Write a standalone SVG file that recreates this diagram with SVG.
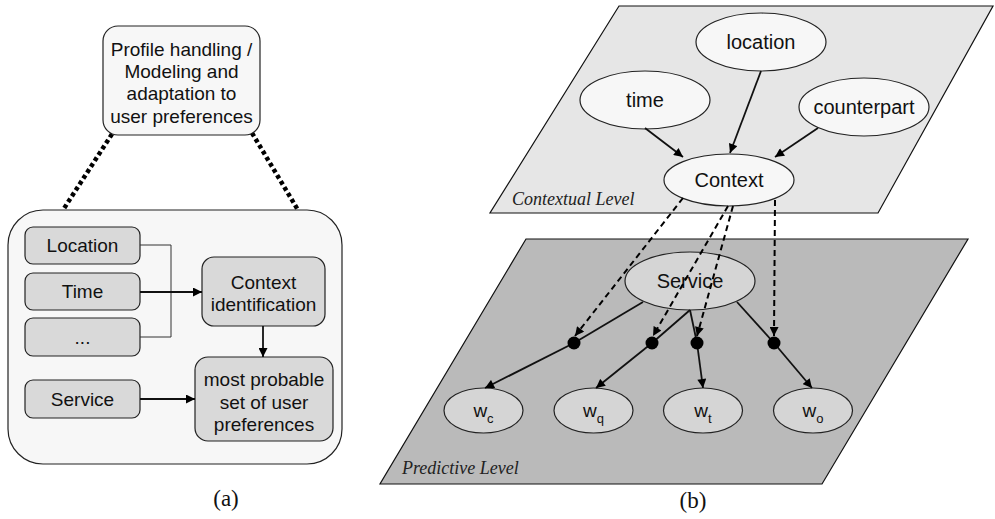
<svg xmlns="http://www.w3.org/2000/svg" width="995" height="519" viewBox="0 0 995 519">
<style>
.t{font-family:"Liberation Sans",Arial,sans-serif;fill:#111;text-anchor:middle}
.l{font-size:19px}
.r{font-size:20px}
.lvl{font-family:"Liberation Serif","Times New Roman",serif;font-style:italic;font-size:18px;fill:#222}
.cap{font-family:"Liberation Serif","Times New Roman",serif;font-size:23px;fill:#111;text-anchor:middle}
.box{stroke:#222;stroke-width:1.2}
.lt{fill:#f7f7f7}
.dk{fill:#d9d9d9}
.ce{fill:#f7f7f7;stroke:#222;stroke-width:1.2}
.pe{fill:#d5d5d5;stroke:#222;stroke-width:1.2}
.ln{fill:none;stroke:#111;stroke-width:1.8}
.thin{fill:none;stroke:#333;stroke-width:1}
.dot{fill:none;stroke:#000;stroke-width:4.5;stroke-dasharray:4 3}
.dash{fill:none;stroke:#000;stroke-width:2;stroke-dasharray:6 4}
</style>
<defs>
<marker id="ah" viewBox="0 0 10 10" refX="10" refY="5" markerWidth="10" markerHeight="9" markerUnits="userSpaceOnUse" orient="auto">
<path d="M0,0 L10,5 L0,10 z" fill="#000"/>
</marker>
</defs>

<!-- (a) -->
<g id="a-dotted">
<line class="dot" x1="112" y1="134" x2="63" y2="210"/>
<line class="dot" x1="252" y1="133" x2="298" y2="210"/>
</g>
<g id="profile">
<rect class="box lt" x="103" y="26" width="157" height="109" rx="15"/>
<text class="t l" x="181.5" y="56">Profile handling /</text>
<text class="t l" x="181.5" y="78">Modeling and</text>
<text class="t l" x="181.5" y="100">adaptation to</text>
<text class="t l" x="181.5" y="123">user preferences</text>
</g>
<g id="container">
<rect class="box lt" x="8" y="210" width="334" height="254" rx="35"/>
</g>
<g id="location">
<rect class="box dk" x="25" y="227" width="115" height="37" rx="8"/>
<text class="t l" x="82.5" y="252">Location</text>
</g>
<g id="time">
<rect class="box dk" x="25" y="273" width="115" height="37" rx="8"/>
<text class="t l" x="82.5" y="298">Time</text>
</g>
<g id="etc">
<rect class="box dk" x="25" y="318" width="115" height="38" rx="8"/>
<text class="t l" x="82.5" y="344">...</text>
</g>
<g id="service-a">
<rect class="box dk" x="25" y="380" width="115" height="38" rx="8"/>
<text class="t l" x="82.5" y="406">Service</text>
</g>
<g id="context-id">
<rect class="box dk" x="202" y="257" width="123" height="69" rx="12"/>
<text class="t l" x="263.5" y="289">Context</text>
<text class="t l" x="263.5" y="311">identification</text>
</g>
<g id="most-probable">
<rect class="box dk" x="195" y="357" width="138" height="84" rx="13"/>
<text class="t l" x="264" y="386">most probable</text>
<text class="t l" x="264" y="409">set of user</text>
<text class="t l" x="264" y="431">preferences</text>
</g>
<g id="connectors-a">
<polyline class="thin" points="140,245 171,245 171,337 140,337"/>
<line class="ln" x1="140" y1="292" x2="202" y2="292" marker-end="url(#ah)"/>
<line class="ln" x1="263" y1="326" x2="263" y2="357" marker-end="url(#ah)"/>
<line class="ln" x1="140" y1="399" x2="195" y2="399" marker-end="url(#ah)"/>
</g>
<text class="cap" x="226" y="506">(a)</text>

<!-- (b) -->
<g id="contextual-level">
<polygon points="619,6 993,6 878,213 490,213" fill="#e6e6e6" stroke="#111" stroke-width="1.2"/>
<text class="lvl" x="512" y="205">Contextual Level</text>
</g>
<g id="predictive-level">
<polygon points="526,239 968,239 822,484 380,484" fill="#bababa" stroke="#111" stroke-width="1.2"/>
<text class="lvl" x="402" y="474">Predictive Level</text>
</g>
<g id="n-location">
<ellipse class="ce" cx="761" cy="42" rx="65" ry="29"/>
<text class="t r" x="761" y="49">location</text>
</g>
<g id="n-time">
<ellipse class="ce" cx="645" cy="100" rx="65" ry="29"/>
<text class="t r" x="645" y="107">time</text>
</g>
<g id="n-counterpart">
<ellipse class="ce" cx="864" cy="107" rx="65" ry="29"/>
<text class="t r" x="864" y="114">counterpart</text>
</g>
<g id="n-context">
<ellipse class="ce" cx="729" cy="180" rx="65" ry="26"/>
<text class="t r" x="729" y="187">Context</text>
</g>
<g id="n-service">
<ellipse class="pe" cx="690" cy="281" rx="65" ry="29"/>
<text class="t r" x="690" y="288">Service</text>
</g>
<g id="n-wc">
<ellipse class="pe" cx="483.5" cy="410.5" rx="39.5" ry="22.5"/>
<text class="t" x="483.5" y="417" font-size="19">w<tspan font-size="13" dy="6">c</tspan></text>
</g>
<g id="n-wq">
<ellipse class="pe" cx="593.5" cy="410.5" rx="39.5" ry="22.5"/>
<text class="t" x="593.5" y="417" font-size="19">w<tspan font-size="13" dy="6">q</tspan></text>
</g>
<g id="n-wt">
<ellipse class="pe" cx="703" cy="410.5" rx="39.5" ry="22.5"/>
<text class="t" x="703" y="417" font-size="19">w<tspan font-size="13" dy="6">t</tspan></text>
</g>
<g id="n-wo">
<ellipse class="pe" cx="813" cy="410.5" rx="39.5" ry="22.5"/>
<text class="t" x="813" y="417" font-size="19">w<tspan font-size="13" dy="6">o</tspan></text>
</g>
<g id="connectors-b">
<line class="ln" x1="645" y1="128" x2="683" y2="157" marker-end="url(#ah)"/>
<line class="ln" x1="761" y1="71" x2="730" y2="153" marker-end="url(#ah)"/>
<line class="ln" x1="818" y1="128" x2="775" y2="157" marker-end="url(#ah)"/>
<line class="ln" x1="643" y1="302" x2="574" y2="343"/>
<line class="ln" x1="574" y1="343" x2="485" y2="388" marker-end="url(#ah)"/>
<line class="ln" x1="690" y1="310" x2="652" y2="343"/>
<line class="ln" x1="652" y1="343" x2="596" y2="388" marker-end="url(#ah)"/>
<line class="ln" x1="690" y1="310" x2="697" y2="343"/>
<line class="ln" x1="697" y1="343" x2="703" y2="388" marker-end="url(#ah)"/>
<line class="ln" x1="737" y1="302" x2="774" y2="343"/>
<line class="ln" x1="774" y1="343" x2="812" y2="388" marker-end="url(#ah)"/>
<line class="dash" x1="683" y1="198" x2="575" y2="336" marker-end="url(#ah)"/>
<line class="dash" x1="728" y1="206" x2="653" y2="336" marker-end="url(#ah)"/>
<line class="dash" x1="733" y1="206" x2="697" y2="336" marker-end="url(#ah)"/>
<line class="dash" x1="775" y1="200" x2="774" y2="336" marker-end="url(#ah)"/>
<circle cx="574" cy="343" r="6.5" fill="#000"/>
<circle cx="652" cy="343" r="6.5" fill="#000"/>
<circle cx="697" cy="343" r="6.5" fill="#000"/>
<circle cx="774" cy="343" r="6.5" fill="#000"/>
</g>
<text class="cap" x="693" y="508">(b)</text>
</svg>
